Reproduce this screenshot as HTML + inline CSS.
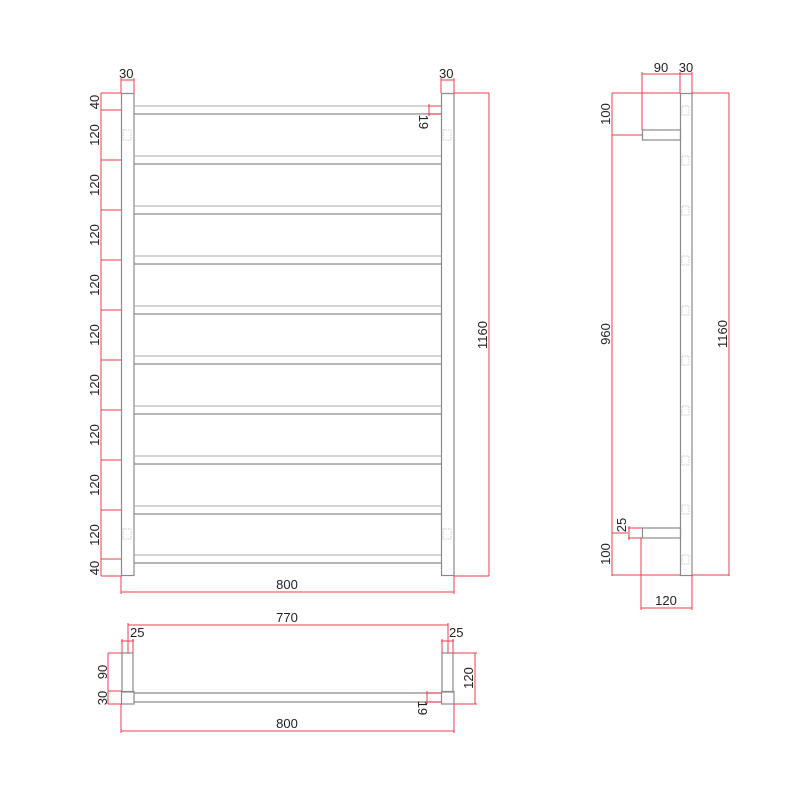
<!DOCTYPE html>
<html><head><meta charset="utf-8"><style>
html,body{margin:0;padding:0;background:#fff;}
svg{display:block}
text{font-family:"Liberation Sans",sans-serif;font-size:13px;fill:#222;}
.r{stroke:#ef3b4e;stroke-width:1;fill:none}
.g{stroke:#8a8a8a;stroke-width:1.2;fill:none}
.gl{stroke:#a8a8a8;stroke-width:1.1;fill:none}
.d{stroke:#bbb;stroke-width:0.7;fill:none;stroke-dasharray:1.5 1}
</style></head><body>
<svg width="800" height="800" viewBox="0 0 800 800" xmlns="http://www.w3.org/2000/svg">
<g id="front">
 <rect x="121.5" y="93.5" width="12.5" height="482" class="g"/>
 <rect x="441.5" y="93.5" width="12.5" height="482" class="g"/>
 <g>
  <line x1="134" y1="106" x2="441" y2="106" class="gl"/><line x1="134" y1="114" x2="441" y2="114" class="g"/>
  <line x1="134" y1="156" x2="441" y2="156" class="gl"/><line x1="134" y1="164" x2="441" y2="164" class="g"/>
  <line x1="134" y1="206" x2="441" y2="206" class="gl"/><line x1="134" y1="214" x2="441" y2="214" class="g"/>
  <line x1="134" y1="256" x2="441" y2="256" class="gl"/><line x1="134" y1="264" x2="441" y2="264" class="g"/>
  <line x1="134" y1="306" x2="441" y2="306" class="gl"/><line x1="134" y1="314" x2="441" y2="314" class="g"/>
  <line x1="134" y1="356" x2="441" y2="356" class="gl"/><line x1="134" y1="364" x2="441" y2="364" class="g"/>
  <line x1="134" y1="406" x2="441" y2="406" class="gl"/><line x1="134" y1="414" x2="441" y2="414" class="g"/>
  <line x1="134" y1="456" x2="441" y2="456" class="gl"/><line x1="134" y1="464" x2="441" y2="464" class="g"/>
  <line x1="134" y1="506" x2="441" y2="506" class="gl"/><line x1="134" y1="514" x2="441" y2="514" class="g"/>
  <line x1="134" y1="555" x2="441" y2="555" class="gl"/><line x1="134" y1="563" x2="441" y2="563" class="g"/>
 </g>
 <rect x="123" y="130" width="8" height="10" class="d"/><rect x="443" y="130" width="8" height="10" class="d"/>
 <rect x="123" y="529" width="8" height="10" class="d"/><rect x="443" y="529" width="8" height="10" class="d"/>
 <line x1="121" y1="80" x2="134" y2="80" class="r"/><line x1="121" y1="78" x2="121" y2="93" class="r"/><line x1="134" y1="78" x2="134" y2="93" class="r"/>
 <text x="119" y="78">30</text>
 <line x1="441" y1="80" x2="454" y2="80" class="r"/><line x1="441" y1="78" x2="441" y2="93" class="r"/><line x1="454" y1="78" x2="454" y2="93" class="r"/>
 <text x="439" y="78">30</text>
 <line x1="101" y1="93" x2="101" y2="576" class="r"/>
 <g class="r">
  <line x1="101" y1="93" x2="121" y2="93"/><line x1="101" y1="110" x2="121" y2="110"/>
  <line x1="101" y1="160" x2="121" y2="160"/><line x1="101" y1="210" x2="121" y2="210"/>
  <line x1="101" y1="260" x2="121" y2="260"/><line x1="101" y1="310" x2="121" y2="310"/>
  <line x1="101" y1="360" x2="121" y2="360"/><line x1="101" y1="410" x2="121" y2="410"/>
  <line x1="101" y1="460" x2="121" y2="460"/><line x1="101" y1="510" x2="121" y2="510"/>
  <line x1="101" y1="559" x2="121" y2="559"/><line x1="101" y1="576" x2="121" y2="576"/>
 </g>
 <g>
  <text transform="translate(99,102) rotate(-90)" text-anchor="middle">40</text>
  <text transform="translate(99,135) rotate(-90)" text-anchor="middle">120</text>
  <text transform="translate(99,185) rotate(-90)" text-anchor="middle">120</text>
  <text transform="translate(99,235) rotate(-90)" text-anchor="middle">120</text>
  <text transform="translate(99,285) rotate(-90)" text-anchor="middle">120</text>
  <text transform="translate(99,335) rotate(-90)" text-anchor="middle">120</text>
  <text transform="translate(99,385) rotate(-90)" text-anchor="middle">120</text>
  <text transform="translate(99,435) rotate(-90)" text-anchor="middle">120</text>
  <text transform="translate(99,485) rotate(-90)" text-anchor="middle">120</text>
  <text transform="translate(99,535) rotate(-90)" text-anchor="middle">120</text>
  <text transform="translate(99,568) rotate(-90)" text-anchor="middle">40</text>
 </g>
 <line x1="428" y1="106" x2="441" y2="106" class="r"/><line x1="428" y1="114" x2="441" y2="114" class="r"/><line x1="429" y1="104" x2="429" y2="116" class="r"/>
 <text transform="translate(419,122) rotate(90)" text-anchor="middle">19</text>
 <line x1="454" y1="93" x2="489" y2="93" class="r"/><line x1="454" y1="576" x2="489" y2="576" class="r"/>
 <line x1="489" y1="93" x2="489" y2="576" class="r"/>
 <text transform="translate(487,335) rotate(-90)" text-anchor="middle">1160</text>
 <line x1="121" y1="576" x2="121" y2="594" class="r"/><line x1="454" y1="576" x2="454" y2="594" class="r"/>
 <line x1="121" y1="592" x2="454" y2="592" class="r"/>
 <text x="287" y="589" text-anchor="middle">800</text>
</g>

<g id="side">
 <rect x="680.5" y="93.5" width="11.5" height="482" class="g"/>
 <rect x="642.5" y="130" width="38" height="10" class="g"/>
 <rect x="642.5" y="528" width="38" height="10" class="g"/>
 <g>
  <rect x="682" y="106" width="7" height="9" class="d"/><rect x="682" y="156" width="7" height="9" class="d"/>
  <rect x="682" y="206" width="7" height="9" class="d"/><rect x="682" y="256" width="7" height="9" class="d"/>
  <rect x="682" y="306" width="7" height="9" class="d"/><rect x="682" y="356" width="7" height="9" class="d"/>
  <rect x="682" y="406" width="7" height="9" class="d"/><rect x="682" y="456" width="7" height="9" class="d"/>
  <rect x="682" y="505" width="7" height="9" class="d"/><rect x="682" y="555" width="7" height="9" class="d"/>
 </g>
 <line x1="642" y1="74" x2="692" y2="74" class="r"/>
 <line x1="642" y1="72" x2="642" y2="130" class="r"/><line x1="680" y1="72" x2="680" y2="93" class="r"/><line x1="692" y1="72" x2="692" y2="93" class="r"/>
 <text x="661" y="72" text-anchor="middle">90</text><text x="686" y="72" text-anchor="middle">30</text>
 <line x1="612" y1="93" x2="612" y2="576" class="r"/>
 <line x1="612" y1="93" x2="680" y2="93" class="r"/>
 <line x1="612" y1="135" x2="642" y2="135" class="r"/>
 <line x1="612" y1="533" x2="628" y2="533" class="r"/>
 <line x1="612" y1="575" x2="680" y2="575" class="r"/>
 <text transform="translate(610,114) rotate(-90)" text-anchor="middle">100</text>
 <text transform="translate(610,334) rotate(-90)" text-anchor="middle">960</text>
 <text transform="translate(610,554) rotate(-90)" text-anchor="middle">100</text>
 <line x1="628" y1="528" x2="642" y2="528" class="r"/><line x1="628" y1="538" x2="642" y2="538" class="r"/>
 <line x1="629" y1="526" x2="629" y2="540" class="r"/>
 <text transform="translate(626,525) rotate(-90)" text-anchor="middle">25</text>
 <line x1="692" y1="93" x2="729" y2="93" class="r"/><line x1="692" y1="575" x2="729" y2="575" class="r"/>
 <line x1="729" y1="93" x2="729" y2="576" class="r"/>
 <text transform="translate(727,334) rotate(-90)" text-anchor="middle">1160</text>
 <line x1="641" y1="538" x2="641" y2="610" class="r"/><line x1="692" y1="575" x2="692" y2="610" class="r"/>
 <line x1="641" y1="608" x2="692" y2="608" class="r"/>
 <text x="666" y="605" text-anchor="middle">120</text>
</g>

<g id="plan">
 <rect x="122" y="653" width="11" height="39" class="g"/>
 <rect x="121.5" y="691.5" width="12.5" height="12.5" class="g"/>
 <rect x="442" y="653" width="11" height="39" class="g"/>
 <rect x="441.5" y="691.5" width="12.5" height="12.5" class="g"/>
 <line x1="134" y1="693" x2="441" y2="693" class="g"/>
 <line x1="134" y1="702" x2="441" y2="702" class="g"/>
 <line x1="128" y1="625" x2="448" y2="625" class="r"/>
 <line x1="128" y1="623" x2="128" y2="653" class="r"/><line x1="448" y1="623" x2="448" y2="653" class="r"/>
 <text x="287" y="622" text-anchor="middle">770</text>
 <line x1="121" y1="641" x2="134" y2="641" class="r"/><line x1="122" y1="639" x2="122" y2="653" class="r"/><line x1="133" y1="639" x2="133" y2="653" class="r"/>
 <text x="130" y="637">25</text>
 <line x1="441" y1="641" x2="454" y2="641" class="r"/><line x1="442" y1="639" x2="442" y2="653" class="r"/><line x1="453" y1="639" x2="453" y2="653" class="r"/>
 <text x="449" y="637">25</text>
 <line x1="108" y1="653" x2="108" y2="704" class="r"/>
 <line x1="108" y1="653" x2="122" y2="653" class="r"/><line x1="108" y1="691" x2="122" y2="691" class="r"/><line x1="108" y1="704" x2="122" y2="704" class="r"/>
 <text transform="translate(107,672) rotate(-90)" text-anchor="middle">90</text>
 <text transform="translate(107,698) rotate(-90)" text-anchor="middle">30</text>
 <line x1="453" y1="653" x2="477" y2="653" class="r"/><line x1="454" y1="704" x2="477" y2="704" class="r"/>
 <line x1="475" y1="653" x2="475" y2="704" class="r"/>
 <text transform="translate(473,678) rotate(-90)" text-anchor="middle">120</text>
 <line x1="426" y1="693" x2="441" y2="693" class="r"/><line x1="426" y1="702" x2="441" y2="702" class="r"/>
 <line x1="427" y1="691" x2="427" y2="704" class="r"/>
 <text transform="translate(418,708) rotate(90)" text-anchor="middle">19</text>
 <line x1="121" y1="704" x2="121" y2="733" class="r"/><line x1="454" y1="704" x2="454" y2="733" class="r"/>
 <line x1="121" y1="731" x2="454" y2="731" class="r"/>
 <text x="287" y="728" text-anchor="middle">800</text>
</g>
</svg>
</body></html>
